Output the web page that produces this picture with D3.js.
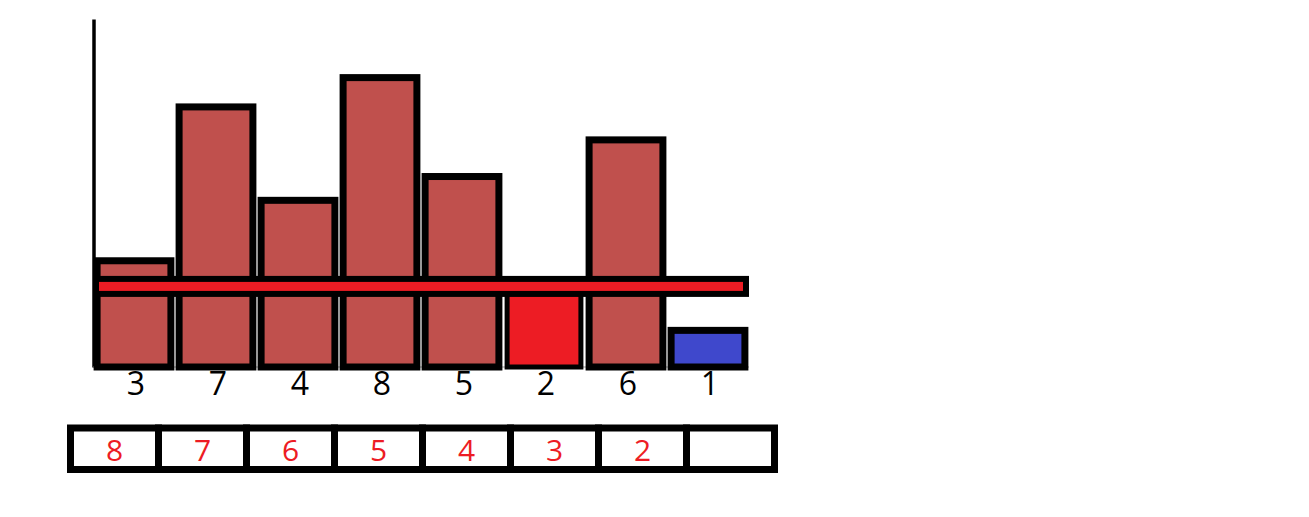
<!DOCTYPE html>
<html>
<head>
<meta charset="utf-8">
<script src="https://cdn.jsdelivr.net/npm/d3@7"></script>
<style>
  html, body { margin: 0; padding: 0; background: #fff; }
  svg { display: block; }
</style>
</head>
<body>
<svg id="chart" width="1309" height="517"></svg>
<script>
// ---- data ----
const categories = ["3", "7", "4", "8", "5", "2", "6", "1"];
const values = [2.9, 7.1, 4.55, 7.9, 5.2, 2.0, 6.2, 1.0];
const refValue = 2.2;
const tableLabels = ["8", "7", "6", "5", "4", "3", "2", ""];

// ---- layout ----
const svg = d3.select("#chart");
const x = d3.scaleBand().domain(categories).range([93, 749]).paddingInner(0.1).paddingOuter(0.05);
const y = d3.scaleLinear().domain([0, 9.5]).range([367, 19]);

const color = d3.scaleOrdinal()
  .domain(["2", "1"])
  .range(["#ED1C24", "#3F48CC"])
  .unknown("#C0504D");

// y axis (plain vertical line)
const yAxis = svg.append("g")
  .attr("transform", "translate(93.5,0)")
  .call(d3.axisLeft(y).ticks(0).tickSizeOuter(0));
yAxis.select(".domain").attr("stroke", "#000").attr("stroke-width", 3.5);

// faint baseline grid remnant
svg.append("line")
  .attr("x1", x.range()[0]).attr("x2", x.range()[1])
  .attr("y1", y(0)).attr("y2", y(0))
  .attr("stroke", "#999").attr("stroke-width", 1);

// bars
const data = categories.map((c, i) => ({ c, v: values[i] }));
svg.append("g").selectAll("rect")
  .data(data)
  .join("rect")
  .attr("x", d => x(d.c))
  .attr("width", x.bandwidth())
  .attr("y", d => y(d.v))
  .attr("height", d => y(0) - y(d.v))
  .attr("fill", d => color(d.c))
  .attr("stroke", "#000")
  .attr("stroke-width", d => d.c === "2" ? 5 : 7);

// reference band line
const lineH = 15;
svg.append("rect")
  .attr("x", x.range()[0] + 3)
  .attr("width", x.range()[1] - x.range()[0] - 6)
  .attr("y", y(refValue) - lineH / 2)
  .attr("height", lineH)
  .attr("fill", "#ED1C24")
  .attr("stroke", "#000")
  .attr("stroke-width", 6);

// x axis labels
const xAxis = svg.append("g")
  .attr("transform", `translate(2,${y(0)})`)
  .call(d3.axisBottom(x).tickSize(0).tickPadding(5));
xAxis.select(".domain").remove();
xAxis.selectAll("text")
  .attr("font-family", "'Open Sans', 'Noto Sans', sans-serif")
  .attr("font-size", 32)
  .attr("fill", "#000");

// bottom table row
const xt = d3.scaleBand().domain(d3.range(tableLabels.length)).range([70.5, 774.5]);
const tTop = 428, tH = 41.5;
const cells = svg.append("g");
cells.selectAll("rect")
  .data(tableLabels)
  .join("rect")
  .attr("x", (d, i) => xt(i))
  .attr("width", xt.bandwidth())
  .attr("y", tTop)
  .attr("height", tH)
  .attr("fill", "#fff")
  .attr("stroke", "#000")
  .attr("stroke-width", 7);
cells.selectAll("text")
  .data(tableLabels)
  .join("text")
  .attr("x", (d, i) => xt(i) + xt.bandwidth() / 2)
  .attr("y", tTop + tH / 2 + 1)
  .attr("text-anchor", "middle")
  .attr("dominant-baseline", "central")
  .attr("font-family", "'Open Sans', 'Noto Sans', sans-serif")
  .attr("font-size", 30)
  .attr("fill", "#ED1C24")
  .text(d => d);
</script>
</body>
</html>
